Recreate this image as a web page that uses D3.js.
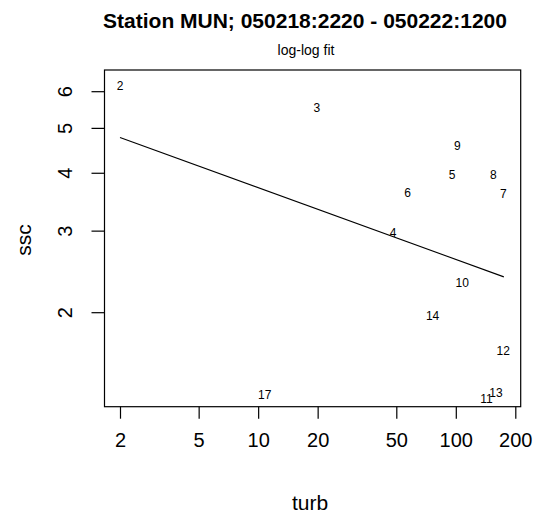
<!DOCTYPE html>
<html><head><meta charset="utf-8">
<script src="https://cdn.jsdelivr.net/npm/d3@7"></script>
<style>body{margin:0;background:#fff}svg{display:block}text{font-family:"Liberation Sans",Arial,sans-serif;fill:#000}</style>
</head><body>
<script>
// data
const labels = ["2","3","4","5","6","7","8","9","10","11","12","13","14","17"];
const turb   = [2.0, 19.8, 48.2, 95.8, 57.0, 173.8, 155.0, 101.7, 107.8, 143.0, 173.8, 159.6, 76.3, 10.8];
const ssc    = [6.19, 5.54, 2.98, 3.98, 3.64, 3.62, 3.98, 4.59, 2.32, 1.307, 1.656, 1.344, 1.97, 1.329];
const fitX   = [2, 175];
const fitY   = [4.78, 2.39];
const xTicks = [2, 5, 10, 20, 50, 100, 200];
const yTicks = [2, 3, 4, 5, 6];
const title = "Station MUN; 050218:2220 - 050222:1200";
const subtitle = "log-log fit";

const W = 534, H = 515;
const box = {l:104.5, r:520.7, t:70, b:406.7};
const svg = d3.select("body").append("svg").attr("width", W).attr("height", H);

const x = d3.scaleLog().domain([2, 200]).range([120, 515.3]);
const y = d3.scaleLog().domain([2, 6]).range([312.7, 91.7]);

svg.append("rect").attr("x", box.l).attr("y", box.t)
  .attr("width", box.r - box.l).attr("height", box.b - box.t)
  .attr("fill", "none").attr("stroke", "#000").attr("stroke-width", 1.2);

// x axis
const xAxis = d3.axisBottom(x).tickValues(xTicks).tickFormat(d3.format("d")).tickSize(12).tickPadding(14);
const gx = svg.append("g").attr("transform", `translate(0,${box.b})`).call(xAxis);
gx.select(".domain").remove();
gx.selectAll("line").attr("stroke", "#000").attr("stroke-width", 1.2);
gx.selectAll("text").style("font-size", "20px").attr("dy", "0.71em");

// y axis
const yAxis = d3.axisLeft(y).tickValues(yTicks).tickFormat(d3.format("d")).tickSize(13).tickPadding(0);
const gy = svg.append("g").attr("transform", `translate(${box.l},0)`).call(yAxis);
gy.select(".domain").remove();
gy.selectAll("line").attr("stroke", "#000").attr("stroke-width", 1.2);
gy.selectAll("text")
  .attr("x", null).attr("dy", null)
  .attr("text-anchor", "middle")
  .style("font-size", "20px")
  .attr("transform", d => `translate(${65 - box.l + 7},${y(d)}) rotate(-90)`)
  .attr("y", 0);
gy.selectAll(".tick").attr("transform", null);
gy.selectAll(".tick line").attr("y1", d => y(d)).attr("y2", d => y(d)).attr("x2", -13);

// fit line
svg.append("path")
  .datum(fitX.map((d, i) => [d, fitY[i]]))
  .attr("d", d3.line().x(d => x(d[0])).y(d => y(d[1])))
  .attr("fill", "none").attr("stroke", "#000").attr("stroke-width", 1.1);

// point labels
svg.append("g").selectAll("text").data(labels).join("text")
  .attr("x", (d, i) => x(turb[i]))
  .attr("y", (d, i) => y(ssc[i]))
  .attr("dy", "0.36em")
  .attr("text-anchor", "middle")
  .style("font-size", "12px")
  .text(d => d);

// titles
svg.append("text").attr("x", 305).attr("y", 28).attr("text-anchor", "middle")
  .style("font-size", "21px").style("font-weight", "bold").text(title);
svg.append("text").attr("x", 306).attr("y", 55).attr("text-anchor", "middle")
  .style("font-size", "14px").text(subtitle);
svg.append("text").attr("x", 310).attr("y", 510).attr("text-anchor", "middle")
  .style("font-size", "21px").text("turb");
svg.append("text").attr("transform", "translate(31,240) rotate(-90)").attr("text-anchor", "middle")
  .style("font-size", "21px").text("ssc");
</script>
</body></html>
